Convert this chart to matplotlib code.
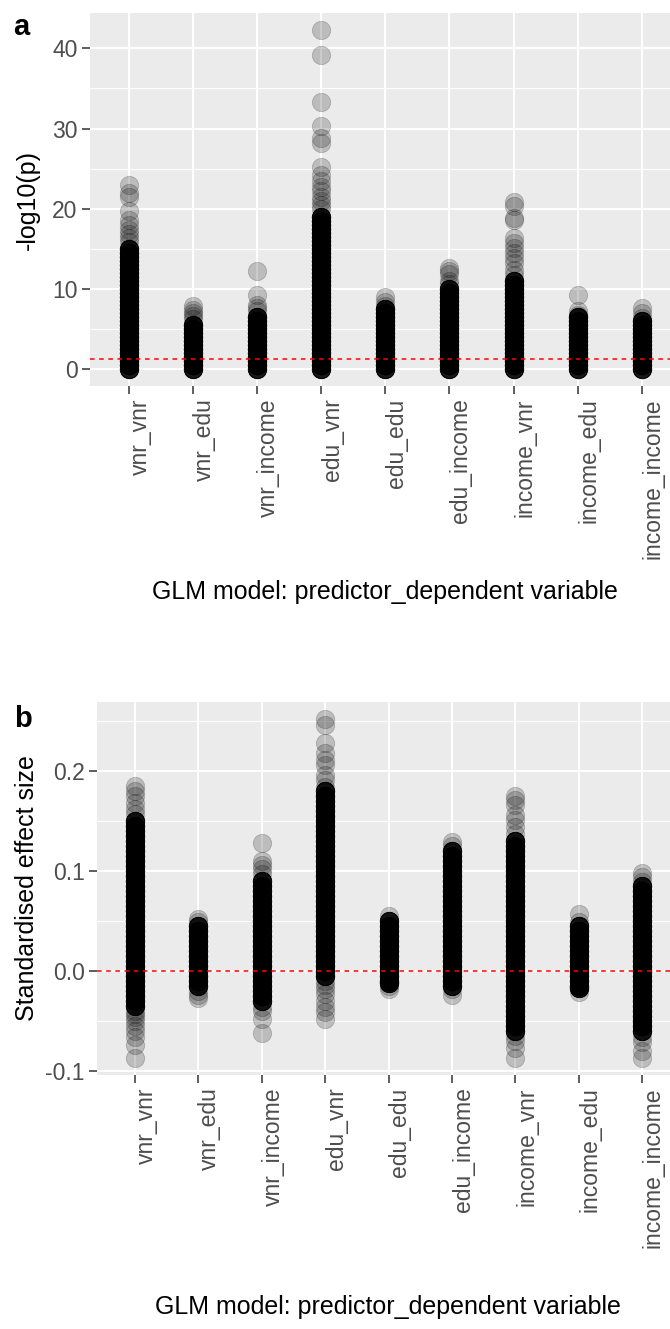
import numpy as np
import matplotlib
matplotlib.use('Agg')
import matplotlib.pyplot as plt
from matplotlib.ticker import FixedLocator

plt.rcParams['font.family'] = ['Liberation Sans', 'DejaVu Sans']

categories = ['vnr_vnr', 'vnr_edu', 'vnr_income', 'edu_vnr', 'edu_edu',
              'edu_income', 'income_vnr', 'income_edu', 'income_income']

# panel a: -log10(p). "core" = heavily overplotted band, "outer" = single points
a_core = [
    [0, 0.5, 1, 1.5, 2, 2.5, 3, 3.5, 4, 4.5, 5, 5.5, 6, 6.5, 7, 7.5, 8, 8.5,
     9, 9.5, 10, 10.5, 11, 11.5, 12, 12.5, 13, 13.5, 14, 14.5, 15],
    [0, 0.5, 1, 1.5, 2, 2.5, 3, 3.5, 4, 4.5, 5, 5.5],
    [0, 0.5, 1, 1.5, 2, 2.5, 3, 3.5, 4, 4.5, 5, 5.5, 6, 6.5],
    [0, 0.5, 1, 1.5, 2, 2.5, 3, 3.5, 4, 4.5, 5, 5.5, 6, 6.5, 7, 7.5, 8, 8.5,
     9, 9.5, 10, 10.5, 11, 11.5, 12, 12.5, 13, 13.5, 14, 14.5, 15, 15.5, 16,
     16.5, 17, 17.5, 18, 18.5, 19],
    [0, 0.5, 1, 1.5, 2, 2.5, 3, 3.5, 4, 4.5, 5, 5.5, 6, 6.5, 7, 7.5],
    [0, 0.5, 1, 1.5, 2, 2.5, 3, 3.5, 4, 4.5, 5, 5.5, 6, 6.5, 7, 7.5, 8, 8.5,
     9, 9.5, 10],
    [0, 0.5, 1, 1.5, 2, 2.5, 3, 3.5, 4, 4.5, 5, 5.5, 6, 6.5, 7, 7.5, 8, 8.5,
     9, 9.5, 10, 10.5, 11],
    [0, 0.5, 1, 1.5, 2, 2.5, 3, 3.5, 4, 4.5, 5, 5.5, 6, 6.5],
    [0, 0.5, 1, 1.5, 2, 2.5, 3, 3.5, 4, 4.5, 5, 5.5, 6],
]
a_outer = [
    [15.8, 16.3, 16.8, 17.4, 18.0, 18.6, 19.7, 21.5, 22.0, 23.0],
    [6.2, 6.6, 7.0, 7.4, 7.9],
    [7.2, 7.6, 8.0, 9.2, 12.2],
    [20.0, 20.5, 21.0, 21.5, 22.2, 22.7, 23.5, 24.2, 25.2, 28.2, 28.8, 30.3,
     33.3, 39.2, 42.3],
    [7.9, 8.4, 9.0],
    [10.6, 11.0, 11.8, 12.2, 12.6],
    [11.7, 12.4, 13.2, 13.8, 14.5, 15.1, 15.7, 16.4, 18.6, 18.8, 20.3, 20.8],
    [6.8, 7.2, 9.2],
    [6.4, 7.0, 7.6],
]

# panel b: standardised effect size
b_core = [
    [-0.035, -0.03, -0.025, -0.02, -0.015, -0.01, -0.005, 0.0, 0.005, 0.01,
     0.015, 0.02, 0.025, 0.03, 0.035, 0.04, 0.045, 0.05, 0.055, 0.06, 0.065,
     0.07, 0.075, 0.08, 0.085, 0.09, 0.095, 0.10, 0.105, 0.11, 0.115, 0.12,
     0.125, 0.13, 0.135, 0.14, 0.145, 0.15],
    [-0.015, -0.01, -0.005, 0.0, 0.005, 0.01, 0.015, 0.02, 0.025, 0.03, 0.035,
     0.04, 0.045],
    [-0.03, -0.025, -0.02, -0.015, -0.01, -0.005, 0.0, 0.005, 0.01, 0.015,
     0.02, 0.025, 0.03, 0.035, 0.04, 0.045, 0.05, 0.055, 0.06, 0.065, 0.07,
     0.075, 0.08, 0.085, 0.09],
    [-0.005, 0.0, 0.005, 0.01, 0.015, 0.02, 0.025, 0.03, 0.035, 0.04, 0.045,
     0.05, 0.055, 0.06, 0.065, 0.07, 0.075, 0.08, 0.085, 0.09, 0.095, 0.10,
     0.105, 0.11, 0.115, 0.12, 0.125, 0.13, 0.135, 0.14, 0.145, 0.15, 0.155,
     0.16, 0.165, 0.17, 0.175, 0.18],
    [-0.012, -0.01, -0.005, 0.0, 0.005, 0.01, 0.015, 0.02, 0.025, 0.03, 0.035,
     0.04, 0.045, 0.05],
    [-0.015, -0.01, -0.005, 0.0, 0.005, 0.01, 0.015, 0.02, 0.025, 0.03, 0.035,
     0.04, 0.045, 0.05, 0.055, 0.06, 0.065, 0.07, 0.075, 0.08, 0.085, 0.09,
     0.095, 0.10, 0.105, 0.11, 0.115, 0.12],
    [-0.06, -0.055, -0.05, -0.045, -0.04, -0.035, -0.03, -0.025, -0.02, -0.015,
     -0.01, -0.005, 0.0, 0.005, 0.01, 0.015, 0.02, 0.025, 0.03, 0.035, 0.04,
     0.045, 0.05, 0.055, 0.06, 0.065, 0.07, 0.075, 0.08, 0.085, 0.09, 0.095,
     0.10, 0.105, 0.11, 0.115, 0.12, 0.125, 0.13],
    [-0.017, -0.015, -0.01, -0.005, 0.0, 0.005, 0.01, 0.015, 0.02, 0.025, 0.03,
     0.035, 0.04, 0.045],
    [-0.06, -0.055, -0.05, -0.045, -0.04, -0.035, -0.03, -0.025, -0.02, -0.015,
     -0.01, -0.005, 0.0, 0.005, 0.01, 0.015, 0.02, 0.025, 0.03, 0.035, 0.04,
     0.045, 0.05, 0.055, 0.06, 0.065, 0.07, 0.075, 0.08, 0.085],
]
b_outer = [
    [0.157, 0.162, 0.168, 0.175, 0.180, 0.185, -0.040, -0.043, -0.046, -0.050,
     -0.055, -0.060, -0.066, -0.074, -0.087],
    [0.049, 0.052, -0.020, -0.024, -0.027],
    [0.097, 0.102, 0.106, 0.110, 0.128, -0.036, -0.040, -0.048, -0.062],
    [0.184, 0.191, 0.196, 0.206, 0.211, 0.218, 0.228, 0.246, 0.252, -0.010,
     -0.014, -0.018, -0.023, -0.030, -0.036, -0.041, -0.048],
    [0.055, -0.015, -0.018],
    [0.125, 0.129, -0.018, -0.024],
    [0.137, 0.144, 0.151, 0.156, 0.166, 0.171, 0.175, -0.065, -0.070, -0.077,
     -0.087],
    [0.049, 0.057, -0.021],
    [0.089, 0.094, 0.098, -0.066, -0.071, -0.080, -0.087],
]
n_core = 10  # overplotted points per core value

W, H = 670, 1329
fig = plt.figure(figsize=(W / 100, H / 100), dpi=100)

def px_box(left, top, right, bottom):
    return [left / W, 1 - bottom / H, (right - left) / W, (bottom - top) / H]

def panel(ax, core, outer, hline, yticks, yminor, ylabels, ylabel, ylab_x):
    allv = []
    for cat, c, o in zip(categories, core, outer):
        y = np.concatenate([np.repeat(c, n_core), o])
        allv.extend(y)
        ax.scatter([cat] * len(y), y, s=175, c='black', alpha=0.2,
                   edgecolors='black', linewidths=0.6, zorder=3)
    lo, hi = min(allv), max(allv)
    pad = 0.05 * (hi - lo)
    ax.set_ylim(lo - pad, hi + pad)
    ax.set_xlim(-0.6, len(categories) - 0.4)
    ax.axhline(hline, color='#FF0000', lw=1.1, ls=(0, (3, 3)), zorder=4)
    ax.set_facecolor('#EBEBEB')
    for s in ax.spines.values():
        s.set_visible(False)
    ax.set_yticks(yticks)
    ax.set_yticklabels(ylabels)
    ax.yaxis.set_minor_locator(FixedLocator(yminor))
    ax.grid(which='major', color='white', lw=1.4, zorder=0)
    ax.grid(which='minor', axis='y', color='white', lw=0.7, zorder=0)
    ax.set_axisbelow(True)
    ax.tick_params(which='major', length=6, width=1.1, color='#333333',
                   labelsize=16.5, labelcolor='#4D4D4D', pad=3)
    ax.tick_params(which='minor', length=0)
    for lab in ax.get_xticklabels():
        lab.set_rotation(90)
        lab.set_ha('left')
        lab.set_va('top')
    pos = ax.get_position()
    fig.text(ylab_x / W, pos.y0 + pos.height / 2, ylabel, rotation=90,
             fontsize=18, ha='center', va='center')

ax1 = fig.add_axes(px_box(90, 13, 680.5, 386))
panel(ax1, a_core, a_outer, -np.log10(0.05), [0, 10, 20, 30, 40],
      [5, 15, 25, 35], ['0', '10', '20', '30', '40'], '-log10(p)', 28)
fig.text(385 / W, 1 - 592 / H, 'GLM model: predictor_dependent variable',
         fontsize=18, ha='center', va='center')
fig.text(13 / W, 1 - 35 / H, 'a', fontsize=21, fontweight='bold',
         ha='left', va='baseline')

ax2 = fig.add_axes(px_box(97, 702, 680, 1075))
panel(ax2, b_core, b_outer, 0.0, [-0.1, 0.0, 0.1, 0.2],
      [-0.05, 0.05, 0.15, 0.25], ['-0.1', '0.0', '0.1', '0.2'],
      'Standardised effect size', 27)
fig.text(388 / W, 1 - 1307 / H, 'GLM model: predictor_dependent variable',
         fontsize=18, ha='center', va='center')
fig.text(14 / W, 1 - 727 / H, 'b', fontsize=21, fontweight='bold',
         ha='left', va='baseline')

fig.savefig('out.png', dpi=100)
